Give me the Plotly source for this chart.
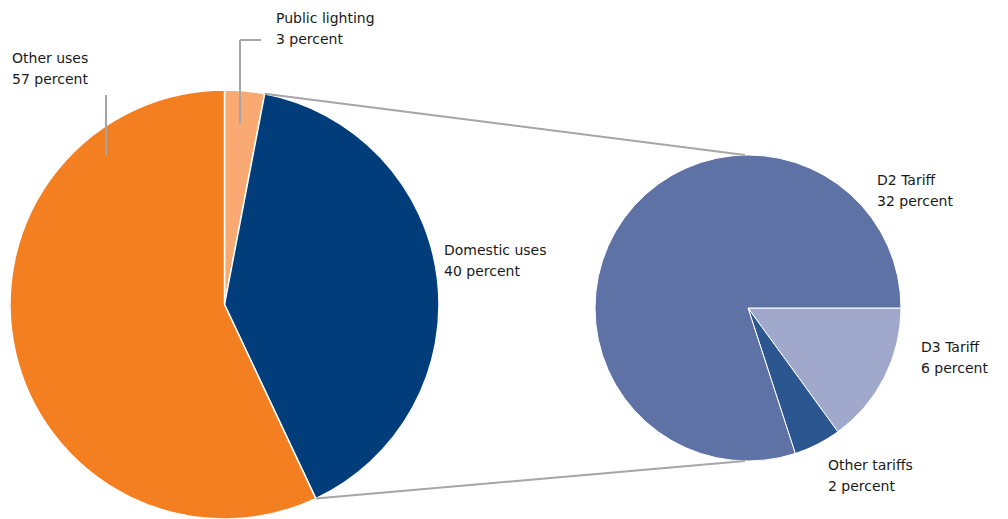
import math
import plotly.graph_objects as go

W, H = 1008, 519

# Electricity use shares (percent)
use_labels = ["Public lighting", "Domestic uses", "Other uses"]
use_values = [3, 40, 57]
use_colors = ["#F9AA72", "#003D7A", "#F47F20"]

# Breakdown of domestic uses by tariff (percent of total)
tariff_labels = ["D3 Tariff", "Other tariffs", "D2 Tariff"]
tariff_values = [6, 2, 32]
tariff_colors = ["#A0A9CC", "#2C5690", "#5E72A6"]

# Pie placement in pixels: centre x, centre y, radius
left_pie = (224.5, 304.5, 214.5)
right_pie = (748.0, 308.0, 153.0)


def domain(cx, cy, r):
    return dict(x=[(cx - r) / W, (cx + r) / W], y=[1 - (cy + r) / H, 1 - (cy - r) / H])


def px(x, y):
    return x / W, 1 - y / H


fig = go.Figure()
fig.add_trace(go.Pie(
    labels=use_labels, values=use_values, sort=False, direction="clockwise",
    rotation=0, domain=domain(*left_pie), textinfo="none", hoverinfo="label+percent",
    marker=dict(colors=use_colors, line=dict(color="white", width=1.5)),
    showlegend=False,
))
fig.add_trace(go.Pie(
    labels=tariff_labels, values=tariff_values, sort=False, direction="clockwise",
    rotation=90, domain=domain(*right_pie), textinfo="none", hoverinfo="label+percent",
    marker=dict(colors=tariff_colors, line=dict(color="white", width=1)),
    showlegend=False,
))

# Connector lines from the domestic slice edges to the top/bottom of the breakdown pie
total = sum(use_values)
start = use_values[0] / total * 360
end = (use_values[0] + use_values[1]) / total * 360
lcx, lcy, lr = left_pie
rcx, rcy, rr = right_pie
p_start = (lcx + lr * math.sin(math.radians(start)), lcy - lr * math.cos(math.radians(start)))
p_end = (lcx + lr * math.sin(math.radians(end)), lcy - lr * math.cos(math.radians(end)))
line_style = dict(color="#A6A6A6", width=2)
for (x0, y0), (x1, y1) in [(p_start, (rcx - 3, rcy - rr)), (p_end, (rcx - 3, rcy + rr))]:
    a, b = px(x0, y0)
    c, d = px(x1, y1)
    fig.add_shape(type="line", xref="paper", yref="paper", x0=a, y0=b, x1=c, y1=d, line=line_style)

# Leader lines for the labels above the main pie
for pts in [[(106, 95), (106, 155)], [(261, 40), (240, 40), (240, 124)]]:
    for (x0, y0), (x1, y1) in zip(pts[:-1], pts[1:]):
        a, b = px(x0, y0)
        c, d = px(x1, y1)
        fig.add_shape(type="line", xref="paper", yref="paper", x0=a, y0=b, x1=c, y1=d,
                      line=line_style)

# Label positions (left edge, vertical middle of the first line, pixels)
label_pos = {
    "Other uses": (10, 58),
    "Public lighting": (274, 18),
    "Domestic uses": (442, 250),
    "D2 Tariff": (875, 180),
    "D3 Tariff": (919, 347),
    "Other tariffs": (826, 465),
}
LINE_GAP = 21
font = dict(family="DejaVu Sans", size=14, color="#1A1A1A")
for name, val in list(zip(use_labels, use_values)) + list(zip(tariff_labels, tariff_values)):
    x, y = label_pos[name]
    for i, line in enumerate([name, f"{val} percent"]):
        a, b = px(x, y + i * LINE_GAP)
        fig.add_annotation(
            x=a, y=b, xref="paper", yref="paper", xanchor="left", yanchor="middle",
            align="left", showarrow=False, text=line, font=font,
        )

fig.update_layout(
    width=W, height=H, margin=dict(l=0, r=0, t=0, b=0),
    paper_bgcolor="white", plot_bgcolor="white",
)
fig.write_html("out.html")
